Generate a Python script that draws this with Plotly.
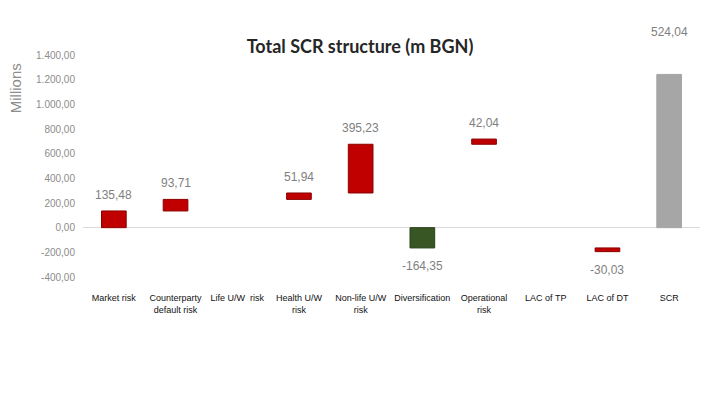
import plotly.graph_objects as go

categories = ["Market risk", "Counterparty<br>default risk", "Life U/W  risk", "Health U/W<br>risk",
              "Non-life U/W<br>risk", "Diversification", "Operational<br>risk", "LAC of TP",
              "LAC of DT", "SCR"]
values = [135.48, 93.71, 0.0, 51.94, 395.23, -164.35, 42.04, 0.0, -30.03, 524.04]
labels = ["135,48", "93,71", "", "51,94", "395,23", "-164,35", "42,04", "", "-30,03", "524,04"]
bar_colors = ["#C00000", "#C00000", "#C00000", "#C00000", "#C00000", "#375623",
              "#C00000", "#C00000", "#C00000", "#A6A6A6"]
line_colors = ["#8B0000", "#8B0000", "#8B0000", "#8B0000", "#8B0000", "#2A4219",
               "#8B0000", "#8B0000", "#8B0000", "#A6A6A6"]
ytick_vals = [-400, -200, 0, 200, 400, 600, 800, 1000, 1200, 1400]
ytick_text = ["-400,00", "-200,00", "0,00", "200,00", "400,00", "600,00", "800,00",
              "1.000,00", "1.200,00", "1.400,00"]

# two running chains: positive contributions and negative contributions
bases, heights = [], []
pos_run, neg_run = 0.0, 0.0
for cat, v in zip(categories, values):
    if cat == "SCR":
        bases.append(0.0)
        heights.append(pos_run + v)
    elif v > 0:
        bases.append(pos_run)
        heights.append(v)
        pos_run += v
    elif v < 0:
        bases.append(neg_run)
        heights.append(v)
        neg_run += v
    else:
        bases.append(pos_run)
        heights.append(None)

LABEL_FONT = dict(family="Liberation Sans, Arial, sans-serif", size=12, color="#7F7F7F")

fig = go.Figure()
fig.add_trace(go.Bar(
    x=categories, y=heights, base=bases,
    marker=dict(color=bar_colors, line=dict(color=line_colors, width=1)),
    width=0.4, hoverinfo="skip",
))

for cat, lab, b, h in zip(categories, labels, bases, heights):
    if not lab or h is None:
        continue
    end = b + h
    if cat == "SCR":
        fig.add_annotation(x=cat, y=end, text=lab, showarrow=False, yshift=42,
                           yanchor="middle", font=LABEL_FONT)
    elif h >= 0:
        fig.add_annotation(x=cat, y=end, text=lab, showarrow=False, yshift=16,
                           yanchor="middle", font=LABEL_FONT)
    else:
        fig.add_annotation(x=cat, y=end, text=lab, showarrow=False, yshift=-18,
                           yanchor="middle", font=LABEL_FONT)

fig.add_annotation(xref="paper", yref="paper", x=-0.110, y=0.851, text="Millions", textangle=-90,
                   showarrow=False, xanchor="center", yanchor="middle",
                   font=dict(family="Liberation Sans, Arial, sans-serif", size=15, color="#8C8C8C"))

fig.update_layout(
    width=698, height=399,
    margin=dict(l=75, r=6, t=47, b=130),
    paper_bgcolor="white", plot_bgcolor="white",
    title=dict(text="<b>Total SCR structure (m BGN)</b>", xref="container", yref="container",
               x=352 / 698, xanchor="center", y=1 - 39 / 399, yanchor="middle",
               font=dict(family="Lato, sans-serif", size=18, color="#262626")),
    showlegend=False,
)
fig.update_xaxes(showgrid=False, showline=False, ticks="", ticklabelstandoff=14,
                 tickfont=dict(family="Liberation Sans, Arial, sans-serif", size=9, color="#111111"),
                 tickangle=0)
fig.update_yaxes(range=[-400, 1400], tickvals=ytick_vals, ticktext=ytick_text, showgrid=False,
                 zeroline=True, zerolinecolor="#D9D9D9", zerolinewidth=1, showline=False, ticks="",
                 ticklabelstandoff=7,
                 tickfont=dict(family="Liberation Sans, Arial, sans-serif", size=10, color="#8C8C8C"))

fig.write_html("out.html")
